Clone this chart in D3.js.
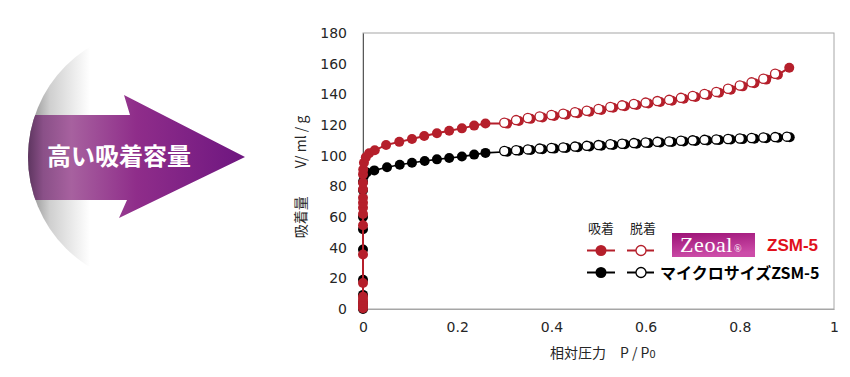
<!DOCTYPE html>
<html>
<head>
<meta charset="utf-8">
<script src="https://cdn.jsdelivr.net/npm/d3@7"></script>
<style>
  html, body { margin: 0; padding: 0; background: #fff; }
  svg { display: block; }
</style>
</head>
<body>
<div id="chart"></div>
<script>
// Data (P/P0, V ml/g)
const redAdsP = [0, 0, 0, 0, 0, 0, 0, 0, 0, 0, 0, 0, 0, 0, 0, 0.0005, 0.002, 0.006, 0.013,
  0.025, 0.049, 0.077, 0.104, 0.13, 0.157, 0.183, 0.21, 0.236, 0.26,
  0.306, 0.331, 0.356, 0.381, 0.406, 0.431, 0.456, 0.481, 0.506, 0.531, 0.556, 0.581,
  0.606, 0.631, 0.656, 0.681, 0.706, 0.731, 0.756, 0.781, 0.806, 0.831, 0.856, 0.881, 0.905];
const redAdsV = [0.5, 2, 4, 6, 8, 17, 35.6, 54.6, 62, 66, 69.3, 72.6, 78, 82.3, 87.8, 91, 95.4, 98.9,
  101.6, 103.5, 107, 109, 110.9, 112.8, 114.6, 116.3, 117.8, 119.6, 121,
  120.9, 122.6, 124.0, 124.9, 125.9, 126.7, 127.7, 128.7, 129.8, 131.2, 132.2, 133.1,
  134.0, 135.0, 135.8, 137.1, 138.3, 139.6, 141.0, 143.0, 145.2, 147.2, 149.6, 152.8, 157.3];

const redDesP = [0.875, 0.85, 0.825, 0.8, 0.775, 0.75, 0.725, 0.7, 0.675, 0.65, 0.625, 0.6,
  0.575, 0.55, 0.525, 0.5, 0.475, 0.45, 0.425, 0.4, 0.375, 0.35, 0.325, 0.3];
const redDesV = [153.4, 150.2, 147.8, 145.8, 143.6, 141.6, 140.2, 138.9, 137.7, 136.4, 135.6, 134.6,
  133.7, 132.8, 131.8, 130.4, 129.3, 128.3, 127.3, 126.5, 125.5, 124.6, 123.2, 121.5];

const blackAdsP = [0, 0, 0, 0, 0, 0, 0, 0, 0, 0, 0.002, 0.008, 0.024, 0.051, 0.078, 0.104, 0.131,
  0.157, 0.183, 0.21, 0.236, 0.26,
  0.306, 0.331, 0.356, 0.381, 0.406, 0.431, 0.456, 0.481, 0.506, 0.531, 0.556, 0.581,
  0.606, 0.631, 0.656, 0.681, 0.706, 0.731, 0.756, 0.781, 0.806, 0.831, 0.856, 0.881, 0.906];
const blackAdsV = [0, 1.5, 4, 9.2, 19, 38.8, 52, 60, 77.5, 83, 86.8, 89.0, 90.4, 92.4, 94.1, 95.4, 96.5,
  97.6, 98.5, 99.4, 100.7, 101.8,
  102.6, 103.2, 103.7, 104.2, 104.6, 105.0, 105.5, 106.0, 106.5, 107.0, 107.4, 107.8,
  108.2, 108.6, 108.9, 109.3, 109.6, 109.9, 110.2, 110.5, 110.8, 111.1, 111.4, 111.7, 112.0];

const blackDesP = [0.9, 0.875, 0.85, 0.825, 0.8, 0.775, 0.75, 0.725, 0.7, 0.675, 0.65, 0.625, 0.6,
  0.575, 0.55, 0.525, 0.5, 0.475, 0.45, 0.425, 0.4, 0.375, 0.35, 0.325, 0.3];
const blackDesV = [112.4, 112.1, 111.8, 111.5, 111.2, 110.9, 110.6, 110.3, 110.0, 109.7, 109.3, 109.0, 108.6,
  108.2, 107.8, 107.4, 106.9, 106.4, 105.9, 105.4, 105.0, 104.6, 104.1, 103.6, 103.0];

const xTicks = [0, 0.2, 0.4, 0.6, 0.8, 1];
const yTicks = [0, 20, 40, 60, 80, 100, 120, 140, 160, 180];

const RED = "#b51f2b";
const zip = (ps, vs) => ps.map((p, i) => ({ p, v: vs[i] }));

const W = 850, H = 377;
const svg = d3.select("#chart").append("svg")
  .attr("width", W).attr("height", H)
  .style("font-family", "'DejaVu Sans', sans-serif");

const defs = svg.append("defs");

// ---- left decoration: big arrow over a fading disc ----
const disc = defs.append("linearGradient").attr("id", "disc")
  .attr("gradientUnits", "userSpaceOnUse").attr("x1", 28).attr("x2", 90).attr("y1", 0).attr("y2", 0);
disc.append("stop").attr("offset", 0).attr("stop-color", "#8a8a8a");
disc.append("stop").attr("offset", 0.35).attr("stop-color", "#cfcfcf");
disc.append("stop").attr("offset", 1).attr("stop-color", "#ffffff");

const arrowGrad = defs.append("linearGradient").attr("id", "arrowGrad")
  .attr("gradientUnits", "userSpaceOnUse").attr("x1", 28).attr("x2", 245).attr("y1", 0).attr("y2", 0);
arrowGrad.append("stop").attr("offset", 0).attr("stop-color", "#5e3560");
arrowGrad.append("stop").attr("offset", 0.07).attr("stop-color", "#8a5088");
arrowGrad.append("stop").attr("offset", 0.2).attr("stop-color", "#a7619f");
arrowGrad.append("stop").attr("offset", 0.5).attr("stop-color", "#8f2d8a");
arrowGrad.append("stop").attr("offset", 1).attr("stop-color", "#6e1680");

defs.append("clipPath").attr("id", "discClip")
  .append("circle").attr("cx", 157).attr("cy", 157).attr("r", 129);

svg.append("circle").attr("cx", 157).attr("cy", 157).attr("r", 129).attr("fill", "url(#disc)");

svg.append("g").attr("clip-path", "url(#discClip)")
  .append("path")
  .attr("d", "M0,115 L130,115 L124,95 L245,157 L119,218 L127,200 L0,200 Z")
  .attr("fill", "url(#arrowGrad)");

svg.append("text")
  .attr("x", 119).attr("y", 165)
  .attr("text-anchor", "middle")
  .attr("fill", "#fff")
  .style("font-family", "'Noto Sans CJK JP', sans-serif")
  .style("font-weight", "bold")
  .style("font-size", "24px")
  .text("高い吸着容量");

// ---- chart ----
const x = d3.scaleLinear().domain([0, 1]).range([363, 834]);
const y = d3.scaleLinear().domain([0, 180]).range([309, 33]);

// frame
svg.append("rect")
  .attr("x", x(0)).attr("y", y(180))
  .attr("width", x(1) - x(0)).attr("height", y(0) - y(180))
  .attr("fill", "none").attr("stroke", "#a6a6a6").attr("stroke-width", 1);

const yAxis = svg.append("g")
  .attr("transform", `translate(${x(0)},0)`)
  .call(d3.axisLeft(y).tickValues(yTicks).tickSize(0).tickPadding(16).tickFormat(d3.format("d")));
yAxis.select(".domain").attr("stroke", "#595959");
yAxis.selectAll("text").attr("fill", "#262626").style("font-size", "14px")
  .style("font-family", "'DejaVu Sans', sans-serif");

const xAxis = svg.append("g")
  .attr("transform", `translate(0,${y(0)})`)
  .call(d3.axisBottom(x).tickValues(xTicks).tickSize(0).tickPadding(13).tickFormat(d => d === 0 || d === 1 ? d : d.toFixed(1)));
xAxis.select(".domain").attr("stroke", "#a6a6a6");
xAxis.selectAll("text").attr("fill", "#262626").style("font-size", "14px")
  .style("font-family", "'DejaVu Sans', sans-serif");

// axis titles
const yTitle = svg.append("text")
  .attr("transform", "translate(306,177) rotate(-90)")
  .attr("text-anchor", "middle")
  .attr("fill", "#262626")
  .style("font-size", "14px")
  .style("font-family", "'Noto Sans CJK JP', sans-serif");
yTitle.append("tspan").text("吸着量　　V/ ml / g");

const xTitle = svg.append("text")
  .attr("x", 550).attr("y", 358)
  .attr("fill", "#262626")
  .style("font-size", "14px")
  .style("font-family", "'Noto Sans CJK JP', sans-serif");
xTitle.append("tspan").text("相対圧力　P / P");
xTitle.append("tspan").style("font-size", "11px").text("0");

// series
const line = d3.line().x(d => x(d.p)).y(d => y(d.v));
const series = [
  { data: zip(blackAdsP, blackAdsV), color: "#000", open: false, w: 1.6 },
  { data: zip(blackDesP, blackDesV), color: "#000", open: true, w: 1.6 },
  { data: zip(redAdsP, redAdsV), color: RED, open: false, w: 2 },
  { data: zip(redDesP, redDesV), color: RED, open: true, w: 2 }
];

const plot = svg.append("g");
series.forEach(s => {
  const g = plot.append("g");
  g.append("path").attr("d", line(s.data))
    .attr("fill", "none").attr("stroke", s.color).attr("stroke-width", s.w);
  g.selectAll("circle").data(s.data).join("circle")
    .attr("cx", d => x(d.p)).attr("cy", d => y(d.v))
    .attr("r", s.open ? 4.6 : 5)
    .attr("fill", s.open ? "#fff" : s.color)
    .attr("stroke", s.color)
    .attr("stroke-width", s.open ? 1.3 : 0);
});

// ---- legend ----
const lg = svg.append("g").style("font-family", "'Noto Sans CJK JP', sans-serif");
lg.append("text").attr("x", 588).attr("y", 233).style("font-size", "13px").attr("fill", "#222").text("吸着");
lg.append("text").attr("x", 630).attr("y", 233).style("font-size", "13px").attr("fill", "#222").text("脱着");

const legendRows = [
  { yy: 250.5, color: RED },
  { yy: 272.5, color: "#000" }
];
legendRows.forEach(r => {
  lg.append("line").attr("x1", 587).attr("x2", 615).attr("y1", r.yy).attr("y2", r.yy)
    .attr("stroke", r.color).attr("stroke-width", 2);
  lg.append("circle").attr("cx", 601).attr("cy", r.yy).attr("r", 5.5).attr("fill", r.color);
  lg.append("line").attr("x1", 627).attr("x2", 654).attr("y1", r.yy).attr("y2", r.yy)
    .attr("stroke", r.color).attr("stroke-width", 2);
  lg.append("circle").attr("cx", 641).attr("cy", r.yy).attr("r", 5).attr("fill", "#fff")
    .attr("stroke", r.color).attr("stroke-width", 1.3);
});

const zg = defs.append("linearGradient").attr("id", "zeoal")
  .attr("x1", 0).attr("x2", 0.3).attr("y1", 0).attr("y2", 1);
zg.append("stop").attr("offset", 0).attr("stop-color", "#9c1276");
zg.append("stop").attr("offset", 1).attr("stop-color", "#cc4ca8");
lg.append("rect").attr("x", 672).attr("y", 233).attr("width", 83).attr("height", 24).attr("fill", "url(#zeoal)");
const zt = lg.append("text").attr("x", 680).attr("y", 252).attr("fill", "#fff")
  .style("font-family", "'Liberation Serif', 'DejaVu Serif', serif").style("font-size", "22px")
  .style("letter-spacing", "0.6px");
zt.append("tspan").text("Zeoal");
zt.append("tspan").attr("dx", 1).style("font-size", "10px").text("®");

lg.append("text").attr("x", 767).attr("y", 251).attr("fill", "#e0101c")
  .style("font-family", "'Liberation Sans', Arial, sans-serif").style("font-weight", "bold").style("font-size", "17px")
  .text("ZSM-5");
lg.append("text").attr("x", 660).attr("y", 279).attr("fill", "#000")
  .style("font-weight", "bold").style("font-size", "16px")
  .text("マイクロサイズZSM-5");
</script>
</body>
</html>
